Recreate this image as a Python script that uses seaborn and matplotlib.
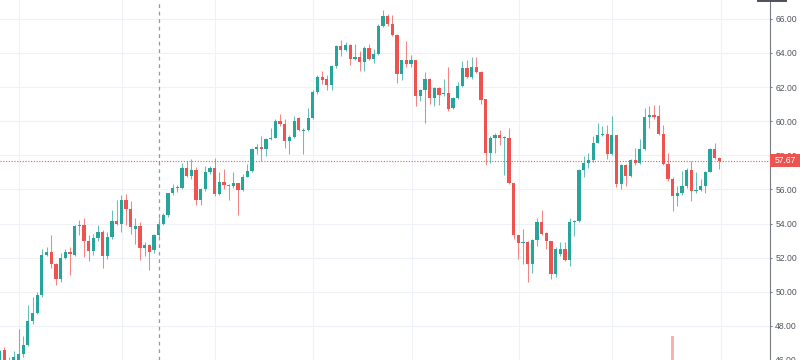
import matplotlib
matplotlib.use('Agg')
import matplotlib.pyplot as plt
import matplotlib.transforms as mtransforms
from matplotlib.patches import Rectangle
import seaborn as sns

# daily OHLC (oldest first)
opens = [45.9, 46.58, 46.0, 45.95, 46.0, 46.33, 46.85, 48.27, 48.76, 49.8,
         52.16, 52.31, 51.6, 50.74, 52.0, 52.31, 52.16, 53.84, 53.94, 52.97,
         52.39, 53.17, 53.5, 52.1, 53.2, 54.17, 53.98, 55.36, 54.83, 53.7,
         53.86, 52.58, 52.74, 52.43, 53.3, 53.98, 54.47, 55.77, 56.06, 56.08,
         57.24, 56.76, 57.15, 55.38, 56.02, 56.99, 57.24, 55.73, 56.41, 56.25,
         56.17, 56.37, 55.96, 56.74, 57.07, 58.35, 58.49, 58.39, 58.93, 59.03,
         60.0, 59.84, 58.83, 59.07, 60.17, 59.4, 59.49, 60.17, 61.73, 62.56,
         62.45, 62.12, 63.22, 64.39, 64.16, 64.45, 63.67, 63.73, 63.48, 64.29,
         63.67, 63.96, 65.6, 66.14, 65.7, 65.07, 62.76, 63.57, 63.34, 63.57,
         61.48, 61.83, 62.47, 61.34, 61.96, 61.57, 61.67, 60.76, 61.34, 62.06,
         63.09, 62.6, 63.15, 62.9, 61.28, 58.14, 59.0, 59.2, 58.99, 59.0,
         56.39, 53.32, 52.85, 52.9, 51.63, 53.03, 54.06, 53.43, 52.99, 51.05,
         52.2, 52.5, 51.88, 54.1, 54.16, 57.13, 57.57, 57.71, 58.74, 59.18,
         59.26, 58.1, 59.18, 56.31, 57.42, 56.76, 57.73, 57.53, 58.35, 60.25,
         60.35, 60.29, 59.26, 57.48, 56.6, 55.63, 55.77, 56.21, 57.13, 55.88,
         55.94, 56.21, 57.03, 58.35, 57.86]
highs = [46.6, 46.75, 46.2, 46.5, 47.8, 47.4, 49.2, 49.7, 50.0, 52.5,
         52.6, 53.3, 51.7, 52.3, 52.5, 52.6, 53.9, 54.2, 54.3, 53.3,
         53.4, 53.9, 53.6, 53.5, 54.8, 55.4, 55.65, 55.75, 55.3, 54.3,
         54.1, 52.9, 52.8, 53.4, 54.3, 54.6, 55.8, 56.3, 56.25, 57.57,
         57.67, 57.78, 57.3, 56.1, 57.38, 57.38, 57.86, 57.0, 57.2, 56.3,
         57.0, 56.4, 56.9, 57.47, 58.45, 58.64, 59.1, 59.0, 59.6, 60.1,
         60.4, 60.1, 59.2, 60.3, 60.27, 59.6, 60.75, 61.8, 62.7, 62.95,
         62.7, 63.3, 64.45, 64.74, 64.65, 64.5, 64.5, 64.1, 64.4, 64.55,
         64.2, 65.7, 66.5, 66.3, 66.2, 65.1, 63.6, 64.7, 63.9, 63.6,
         61.9, 62.9, 62.5, 62.0, 62.0, 62.45, 63.2, 61.4, 62.3, 63.5,
         63.6, 63.77, 63.77, 62.95, 61.3, 59.1, 59.3, 59.5, 59.1, 59.6,
         56.4, 53.35, 53.7, 52.95, 53.1, 54.35, 54.8, 53.5, 53.0, 52.6,
         52.9, 52.9, 54.35, 54.2, 57.2, 57.96, 58.15, 59.13, 59.9, 59.7,
         59.77, 60.29, 59.2, 57.5, 57.5, 57.77, 58.45, 58.93, 60.78, 60.87,
         60.93, 60.97, 59.8, 58.16, 56.7, 56.2, 57.1, 57.28, 57.67, 57.0,
         56.6, 57.1, 58.45, 58.74, 57.9]
lows = [45.8, 45.9, 45.5, 45.9, 45.9, 46.2, 46.8, 48.1, 48.7, 49.7,
        52.1, 51.4, 50.4, 50.6, 51.9, 51.0, 52.1, 53.3, 52.06, 51.8,
        52.15, 53.0, 51.4, 51.9, 53.1, 53.9, 53.5, 53.9, 53.4, 52.8,
        51.86, 52.1, 51.3, 52.3, 53.2, 53.9, 54.4, 55.7, 55.85, 56.0,
        56.7, 56.6, 55.1, 55.06, 55.9, 56.9, 55.6, 55.7, 56.0, 55.4,
        56.1, 54.5, 55.9, 56.7, 57.0, 58.1, 57.67, 57.96, 58.9, 59.0,
        59.7, 58.45, 58.1, 59.0, 59.4, 58.1, 59.4, 60.1, 61.6, 62.2,
        61.8, 61.8, 63.1, 63.8, 64.1, 63.3, 63.6, 62.95, 62.95, 63.57,
        63.4, 63.9, 65.5, 65.6, 65.0, 62.26, 62.4, 63.2, 63.2, 60.9,
        61.2, 59.9, 61.0, 60.9, 60.95, 61.5, 60.6, 60.7, 61.3, 62.0,
        62.5, 62.45, 62.8, 61.0, 57.4, 57.57, 58.14, 58.6, 56.86, 56.3,
        53.1, 51.9, 51.6, 50.6, 51.1, 52.7, 53.3, 52.5, 50.75, 50.85,
        52.1, 51.8, 51.5, 53.28, 54.1, 56.7, 57.28, 57.6, 58.7, 59.1,
        57.77, 58.0, 56.12, 56.0, 56.2, 56.7, 57.4, 57.5, 58.3, 59.6,
        60.1, 59.2, 57.4, 56.5, 54.76, 55.0, 55.7, 56.1, 55.3, 55.8,
        55.9, 55.8, 57.0, 57.8, 57.17]
closes = [46.5, 46.0, 45.7, 46.2, 46.33, 46.85, 48.27, 48.76, 49.83, 52.16,
          52.31, 51.6, 50.76, 52.0, 52.31, 52.21, 53.84, 53.94, 52.97, 52.39,
          53.17, 53.5, 52.1, 53.2, 54.17, 53.98, 55.36, 54.83, 53.8, 53.86,
          52.58, 52.74, 52.35, 53.3, 53.98, 54.47, 55.77, 56.08, 56.1, 57.24,
          56.8, 57.15, 55.38, 56.02, 56.99, 57.24, 55.73, 56.41, 56.25, 56.17,
          56.37, 55.96, 56.74, 57.07, 58.35, 58.49, 58.39, 58.93, 59.03, 60.0,
          59.84, 58.83, 59.07, 60.0, 59.5, 59.5, 60.17, 61.73, 62.56, 62.4,
          62.12, 63.22, 64.39, 64.16, 64.45, 63.67, 63.73, 63.48, 64.29, 63.67,
          63.96, 65.6, 66.14, 65.67, 65.07, 62.76, 63.57, 63.34, 63.57, 61.48,
          61.83, 62.47, 61.34, 61.96, 61.53, 61.67, 60.7, 61.34, 62.06, 63.09,
          62.6, 63.15, 62.9, 61.24, 58.14, 59.0, 59.2, 59.0, 59.05, 56.4,
          53.32, 52.85, 52.93, 51.63, 53.03, 54.06, 53.38, 52.99, 51.05, 52.5,
          52.5, 51.88, 54.1, 54.16, 57.13, 57.57, 57.71, 58.74, 59.18, 59.26,
          58.1, 59.18, 56.31, 57.42, 56.76, 57.73, 57.53, 58.35, 60.25, 60.35,
          60.23, 59.26, 57.48, 56.6, 55.63, 55.77, 56.21, 57.13, 55.88, 55.94,
          56.21, 57.03, 58.35, 57.86, 57.67]

last_price = 57.67
price_ticks = [46, 48, 50, 52, 54, 56, 58, 60, 62, 64, 66]
time_grid = [4.2, 26.2, 46.1, 67.1, 88.2, 111.2, 131.1, 154.3]
crosshair_bar = 34
spike_bar = 144
spike_top = 47.4

UP = '#26a69a'
DOWN = '#ef5350'
GRID = '#eef1f6'

sns.set_theme(style='white')
plt.rcParams['font.family'] = ['Liberation Sans', 'DejaVu Sans']

fig = plt.figure(figsize=(8, 3.6), dpi=100)
ax = fig.add_axes([0, 0, 769.5 / 800, 1])
ax.set_xlim(0.04, 164.75)
ax.set_ylim(46.12, 67.1)

# grid
for p in price_ticks:
    ax.axhline(p, color=GRID, lw=0.8, zorder=0)
for t in time_grid:
    ax.axvline(t, color=GRID, lw=0.8, zorder=0)

# volume spike peeking from the bottom
ax.bar(spike_bar, spike_top - 40, bottom=40, width=0.75,
       color=DOWN, alpha=0.45, lw=0, zorder=1)

# candles
xs = list(range(len(opens)))
colors = [UP if c >= o else DOWN for o, c in zip(opens, closes)]
ax.vlines(xs, lows, highs, colors=colors, lw=0.75, alpha=0.7, zorder=2)
bottoms = [min(o, c) for o, c in zip(opens, closes)]
heights = [max(abs(c - o), 0.06) for o, c in zip(opens, closes)]
ax.bar(xs, heights, bottom=bottoms, width=0.7, color=colors, lw=0, zorder=3)

# crosshair and last price line
ax.axvline(crosshair_bar, color='#9598a1', lw=0.9, ls=(0, (3, 3)), zorder=4)
ax.axhline(last_price, color=DOWN, lw=0.8, ls=(0, (1, 1.5)), zorder=4)

# right price scale
sns.despine(ax=ax, left=True, top=True, bottom=True, right=False)
ax.spines['right'].set_color('#787b86')
ax.spines['right'].set_linewidth(0.8)
ax.yaxis.tick_right()
ax.set_yticks(price_ticks)
ax.set_yticklabels([f'{p:.2f}' for p in price_ticks])
ax.tick_params(axis='y', length=1.6, width=0.7, color='#787b86',
               labelsize=6.2, labelcolor='#50535e', pad=2.5, right=True)
ax.set_xticks([])

lbl = mtransforms.blended_transform_factory(ax.transAxes, ax.transData)
ax.add_patch(Rectangle((1.0, last_price - 0.38), 0.04, 0.76, transform=lbl,
                       facecolor=DOWN, edgecolor='none', clip_on=False, zorder=6))
ax.text(1.0 + 5.5 / 769.5, last_price, f'{last_price:.2f}', transform=lbl,
        ha='left', va='center', color='white', fontsize=6.2, zorder=7)

fig.patches.append(Rectangle((757, 358.5), 30, 1.5, transform=None,
                             facecolor='#50535e', edgecolor='none'))

fig.savefig('out.png', dpi=100)
